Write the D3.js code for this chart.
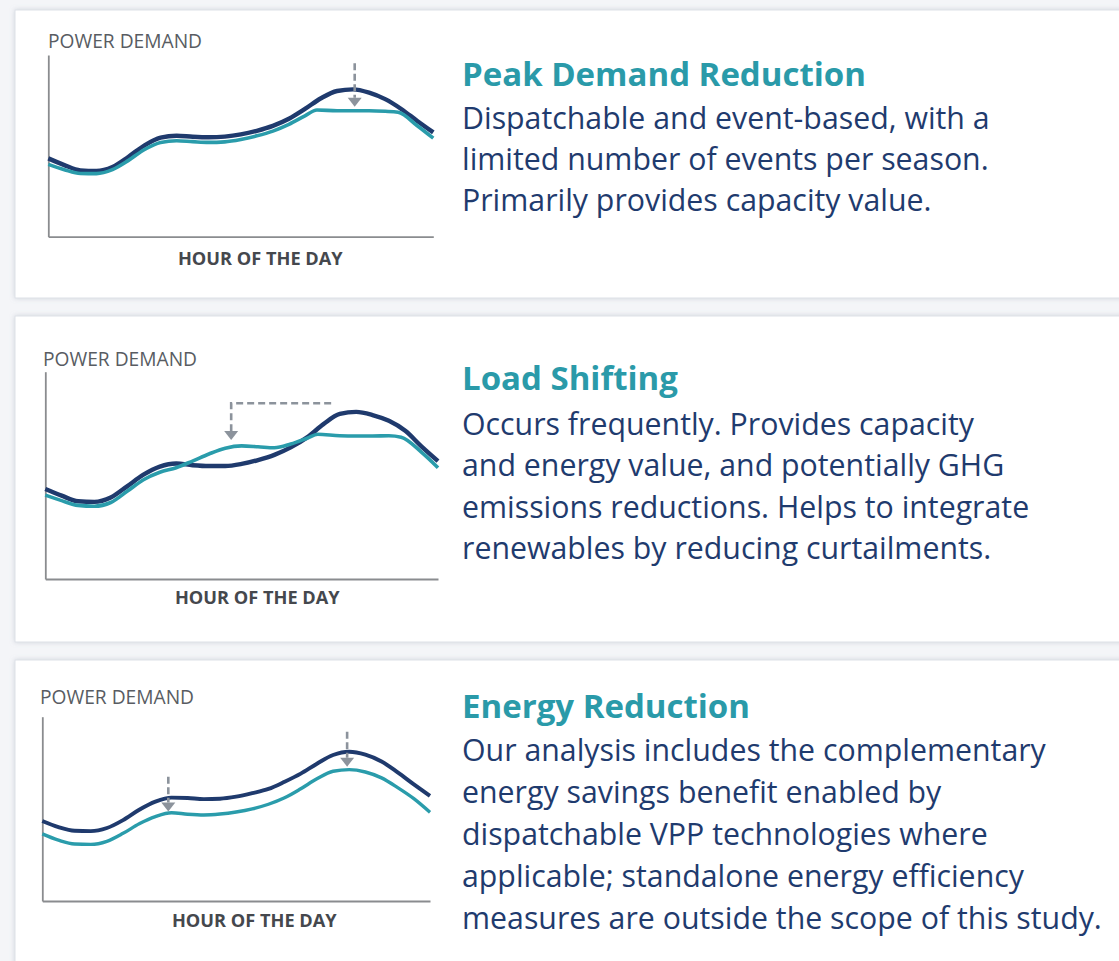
<!DOCTYPE html>
<html><head><meta charset="utf-8">
<script src="https://cdn.jsdelivr.net/npm/d3@7"></script>
<style>
html,body{margin:0;padding:0;background:#f4f5f8;}
svg{display:block;}
</style></head><body>
<svg id="c" width="1119" height="961"></svg>
<script>
// ---------- DATA ----------
const hours = [0,1,2,3,4,5,6,7,8,9,10,11,12,13,14,15,16,17,18,19,20,21,22,23,24];

// Panel 1: Peak Demand Reduction
const peakBaseline = [43.1,39.4,36.5,36.2,38.4,44.0,50.3,54.5,55.6,55.0,54.7,55.1,56.3,58.3,61.0,64.9,70.3,76.2,80.2,81.1,79.3,75.7,70.3,63.7,57.4];
const peakManagedHours = [0,1,2,3,4,5,6,7,8,9,10,11,12,13,14,15,16,16.75,18,19,20,21,21.8,23,24];
const peakManaged = [39.8,36.9,34.8,34.7,36.9,42.0,48.0,51.9,52.8,52.3,51.9,52.2,53.5,55.5,58.1,61.8,66.5,69.7,69.3,69.3,69.3,69.0,68.5,61.1,54.2];
const peakArrowHour = [19.1];
const peakArrowFrom = [95.4];
const peakArrowTo = [71.5];

// Panel 2: Load Shifting
const shiftBaseline = [43.4,40.2,37.5,37.2,39.3,44.7,50.3,54.2,55.7,54.9,54.5,54.5,55.5,57.4,59.9,63.5,68.3,74.7,79.6,80.6,79.1,76.3,71.5,63.9,56.9];
const shiftManagedHours = [0,1,2,3,4,5,6,7,8,9,10,11,12,13,14,15,16,16.65,18,19,20,21,21.75,23,24];
const shiftManaged = [40.5,37.8,35.5,35.1,36.9,42.3,47.9,51.5,53.7,56.9,60.3,63.1,64.2,63.8,63.3,65.1,67.9,69.8,69.1,69.0,69.0,69.1,68.4,61.1,53.7];
const shiftBracketFromHour = [17.47];
const shiftBracketToHour = [11.36];
const shiftBracketLevel = [84.8];
const shiftBracketTo = [67.1];

// Panel 3: Energy Reduction
const energyBaseline = [43.4,40.1,38.1,37.9,39.6,43.9,49.5,53.9,56.1,55.9,55.3,55.5,56.6,58.5,60.8,64.7,69.1,74.5,79.2,81.0,79.4,75.7,69.8,63.3,57.0];
const energyManaged = [36.4,33.0,30.9,30.7,32.4,36.7,41.9,45.8,47.9,47.1,46.7,47.2,48.3,50.0,52.5,56.0,60.9,66.3,70.4,71.3,70.0,66.8,61.5,55.5,48.1];
const energyArrowHour = [7.8, 18.87];
const energyArrowFrom = [67.4, 91.9];
const energyArrowTo = [48.5, 72.9];

// Text
const yAxisLabel = "POWER DEMAND";
const xAxisLabel = "HOUR OF THE DAY";
const titles = ["Peak Demand Reduction", "Load Shifting", "Energy Reduction"];
const bodies = [
  ["Dispatchable and event-based, with a", "limited number of events per season.", "Primarily provides capacity value."],
  ["Occurs frequently. Provides capacity", "and energy value, and potentially GHG", "emissions reductions. Helps to integrate", "renewables by reducing curtailments."],
  ["Our analysis includes the complementary", "energy savings benefit enabled by", "dispatchable VPP technologies where", "applicable; standalone energy efficiency", "measures are outside the scope of this study."]
];

// ---------- LAYOUT ----------
const C_DARK = "#1f3a6d", C_TEAL = "#2a9cab", C_ARROW = "#8c939c", C_AXIS = "#8a8c8f";
const FONT = "'Open Sans', sans-serif";

const svg = d3.select("#c");
const defs = svg.append("defs");
const flt = defs.append("filter").attr("id","sh").attr("x","-5%").attr("y","-10%").attr("width","110%").attr("height","120%");
flt.append("feDropShadow").attr("dx",0).attr("dy",0).attr("stdDeviation",2.5).attr("flood-color","#8f99a8").attr("flood-opacity",0.35);

const cards = [{y:10,h:288},{y:316,h:326},{y:660,h:330}];
svg.selectAll("rect.card").data(cards).join("rect").attr("class","card")
  .attr("x",15).attr("y",d=>d.y).attr("width",1140).attr("height",d=>d.h)
  .attr("fill","#fff").attr("stroke","#dde1e7").attr("stroke-width",1).attr("filter","url(#sh)");

const panels = [
  {plot:{x0:48.3,x1:433.3,top:55,bottom:236.7}, ylab:{x:48,y:48}, xlabY:265,
   series:[{h:hours,v:peakBaseline,c:C_DARK,w:4.4},{h:peakManagedHours,v:peakManaged,c:C_TEAL,w:3.6}],
   arrows:peakArrowHour.map((h,i)=>({h,from:peakArrowFrom[i],to:peakArrowTo[i]})),
   text:{x:462,title:86,lines:[129,170,211]}},
  {plot:{x0:45.3,x1:438,top:371.7,bottom:579}, ylab:{x:43,y:366}, xlabY:604,
   series:[{h:hours,v:shiftBaseline,c:C_DARK,w:4.4},{h:shiftManagedHours,v:shiftManaged,c:C_TEAL,w:3.6}],
   bracket:{from:shiftBracketFromHour[0],to:shiftBracketToHour[0],level:shiftBracketLevel[0],tip:shiftBracketTo[0]},
   text:{x:462,title:390,lines:[435,476,518,559]}},
  {plot:{x0:42.3,x1:430,top:716.7,bottom:901}, ylab:{x:40,y:704}, xlabY:927,
   series:[{h:hours,v:energyBaseline,c:C_DARK,w:3.9},{h:hours,v:energyManaged,c:C_TEAL,w:3.4}],
   arrows:energyArrowHour.map((h,i)=>({h,from:energyArrowFrom[i],to:energyArrowTo[i]})),
   text:{x:462,title:718,lines:[761,803,845,887,929]}}
];

function arrowHead(g, x, yTip){
  g.append("path").attr("d",`M${x-7},${yTip-9}L${x+7},${yTip-9}L${x},${yTip}Z`).attr("fill",C_ARROW);
}

panels.forEach((p,pi)=>{
  const g = svg.append("g");
  const x = d3.scaleLinear().domain([0,24]).range([p.plot.x0,p.plot.x1]);
  const y = d3.scaleLinear().domain([0,100]).range([p.plot.bottom,p.plot.top]);
  // axes
  const ax = g.append("g").attr("transform",`translate(0,${p.plot.bottom})`)
    .call(d3.axisBottom(x).tickValues([]).tickSizeOuter(0));
  const ay = g.append("g").attr("transform",`translate(${p.plot.x0},0)`)
    .call(d3.axisLeft(y).tickValues([]).tickSizeOuter(0));
  [ax,ay].forEach(a=>a.select(".domain").attr("stroke",C_AXIS).attr("stroke-width",1.8));
  // labels
  g.append("text").attr("x",p.ylab.x).attr("y",p.ylab.y).text(yAxisLabel)
    .attr("font-family",FONT).attr("font-size",19.2).attr("fill","#585c62");
  g.append("text").attr("x",p.plot.x0+212).attr("y",p.xlabY).attr("text-anchor","middle").text(xAxisLabel)
    .attr("font-family",FONT).attr("font-weight",700).attr("font-size",18.2).attr("fill","#45484d");
  // lines
  const line = d3.line().x(d=>x(d[0])).y(d=>y(d[1])).curve(d3.curveMonotoneX);
  p.series.forEach(s=>{
    g.append("path").datum(s.h.map((h,i)=>[h,s.v[i]])).attr("d",line)
      .attr("fill","none").attr("stroke",s.c).attr("stroke-width",s.w).attr("stroke-linejoin","round").attr("stroke-linecap","butt");
  });
  // arrows
  (p.arrows||[]).forEach(a=>{
    const xx = x(a.h), y0 = y(a.from), yt = y(a.to);
    g.append("line").attr("x1",xx).attr("x2",xx).attr("y1",y0).attr("y2",yt-9)
      .attr("stroke",C_ARROW).attr("stroke-width",2.6).attr("stroke-dasharray","7,3.5");
    arrowHead(g,xx,yt);
  });
  if(p.bracket){
    const b=p.bracket, xa=x(b.from), xb=x(b.to), yl=y(b.level), yt=y(b.tip);
    g.append("path").attr("d",`M${xa},${yl}L${xb},${yl}L${xb},${yt-9}`)
      .attr("fill","none").attr("stroke",C_ARROW).attr("stroke-width",2.6).attr("stroke-dasharray","7,4");
    arrowHead(g,xb,yt);
  }
  // text panel
  const tg = svg.append("g");
  tg.append("text").attr("x",p.text.x).attr("y",p.text.title).text(titles[pi])
    .attr("font-family",FONT).attr("font-weight",700).attr("font-size",33).attr("fill","#2a9aa9");
  bodies[pi].forEach((t,li)=>{
    tg.append("text").attr("x",p.text.x).attr("y",p.text.lines[li]).text(t)
      .attr("font-family",FONT).attr("font-size",30.3).attr("fill","#1f3b6e");
  });
});
</script>
</body></html>
